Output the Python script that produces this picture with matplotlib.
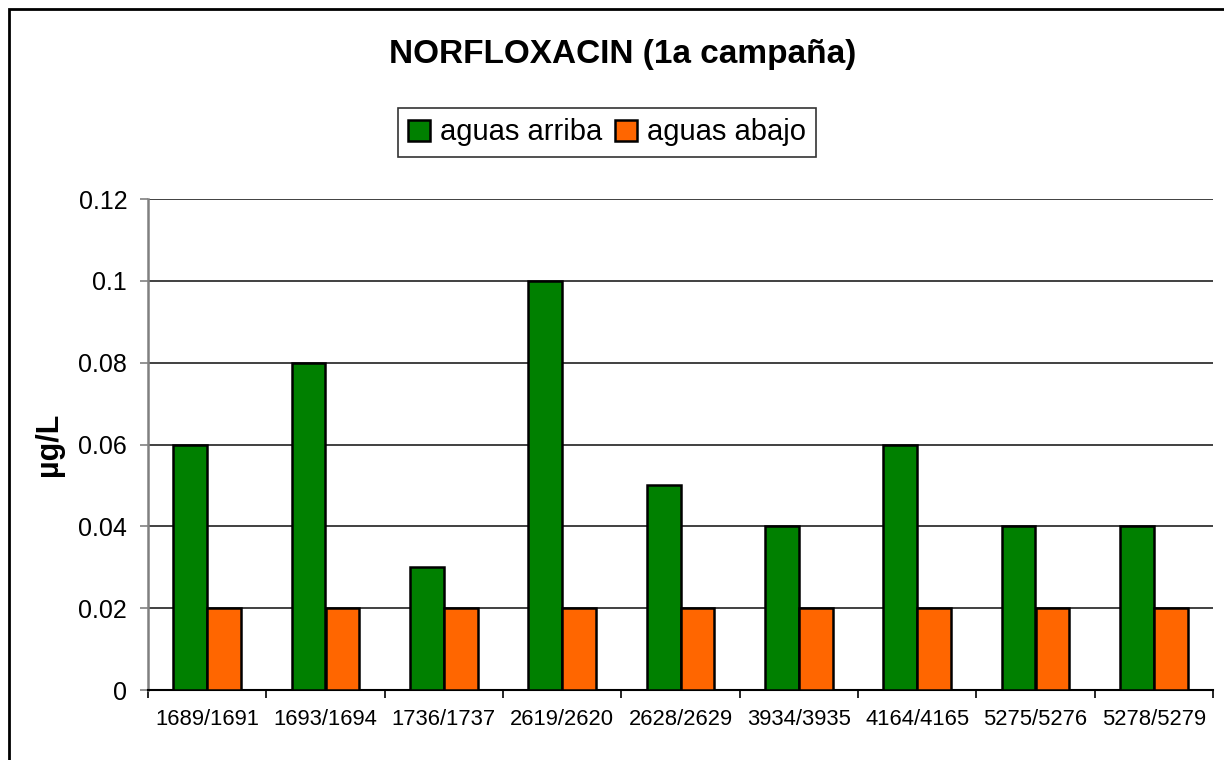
import numpy as np
import matplotlib.pyplot as plt
from matplotlib.patches import Rectangle

plt.rcParams['font.family'] = ['Liberation Sans', 'DejaVu Sans']

sites = ["1689/1691", "1693/1694", "1736/1737", "2619/2620", "2628/2629",
         "3934/3935", "4164/4165", "5275/5276", "5278/5279"]
arriba = [0.06, 0.08, 0.03, 0.10, 0.05, 0.04, 0.06, 0.04, 0.04]
abajo = [0.02, 0.02, 0.02, 0.02, 0.02, 0.02, 0.02, 0.02, 0.02]
yticks = [0, 0.02, 0.04, 0.06, 0.08, 0.1, 0.12]
ytick_labels = ["0", "0.02", "0.04", "0.06", "0.08", "0.1", "0.12"]

fig = plt.figure(figsize=(12.24, 7.6), dpi=100)
ax = fig.add_axes([148/1224, 1 - 690/760, (1213 - 148)/1224, (690 - 199)/760])

x = np.arange(len(sites))
w = 0.285
ax.bar(x - w/2, arriba, w, color='#008000', edgecolor='black', linewidth=1.8,
       label='aguas arriba', zorder=3)
ax.bar(x + w/2, abajo, w, color='#FF6600', edgecolor='black', linewidth=1.8,
       label='aguas abajo', zorder=3)

ax.set_xlim(-0.5, len(sites) - 0.5)
ax.set_ylim(0, 0.12)
ax.set_yticks(yticks)
ax.set_yticklabels(ytick_labels, fontsize=18)
ax.set_xticks(x)
ax.set_xticklabels(sites, fontsize=15.8)
ax.tick_params(axis='x', length=0, pad=14)
ax.set_xticks(np.arange(len(sites) + 1) - 0.5, minor=True)
ax.tick_params(axis='x', which='minor', length=6, color='black', width=1.2)
ax.tick_params(axis='y', length=6, color='#808080', width=1.2, pad=9)
ax.yaxis.grid(True, color='#202020', linewidth=1.2)
ax.set_axisbelow(True)
for s in ['top', 'right']:
    ax.spines[s].set_visible(False)
ax.spines['left'].set_color('#808080')
ax.spines['left'].set_linewidth(1.8)
ax.spines['bottom'].set_color('black')
ax.spines['bottom'].set_linewidth(1.5)

ax.set_ylabel("µg/L", fontsize=22, fontweight='bold', labelpad=10)

fig.text(623/1224, 1 - 54/760, "NORFLOXACIN (1a campaña)", fontsize=24,
         fontweight='bold', ha='center', va='center')

leg = fig.legend(loc='center', bbox_to_anchor=(607/1224, 1 - 132.5/760),
                 ncol=2, fontsize=21, frameon=True, fancybox=False,
                 edgecolor='black', handlelength=0.75, handleheight=0.75,
                 handletextpad=0.35, columnspacing=0.45, borderpad=0.35)
leg.get_frame().set_linewidth(1.2)

fig.patches.append(Rectangle((9/1224, -0.01), 1.01, 1 - 9/760 + 0.01,
                             transform=fig.transFigure, fill=False,
                             edgecolor='black', linewidth=2))

fig.savefig("out.png", dpi=100)
